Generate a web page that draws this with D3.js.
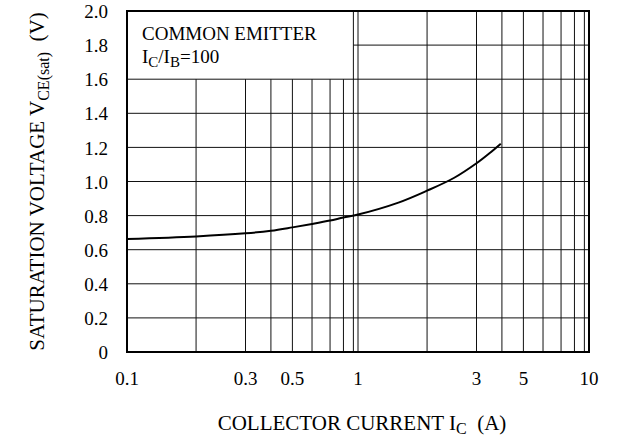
<!DOCTYPE html>
<html><head><meta charset="utf-8">
<script src="https://cdn.jsdelivr.net/npm/d3@7"></script>
<style>
body{margin:0;background:#fff;}
svg text{font-family:"Liberation Serif","Times New Roman",serif;fill:#000;}
</style></head>
<body><svg id="c" width="618" height="442"></svg>
<script>
const currentA = [0.1, 0.2, 0.3, 0.4, 0.5, 0.6, 0.7, 0.8, 1, 1.5, 2, 2.5, 3, 3.5, 3.95];
const vceSat   = [0.663, 0.678, 0.696, 0.711, 0.731, 0.751, 0.771, 0.789, 0.806, 0.876, 0.946, 1.022, 1.107, 1.169, 1.222];
const xTickValues = [0.1, 0.3, 0.5, 1, 3, 5, 10];
const xTickLabels = ["0.1", "0.3", "0.5", "1", "3", "5", "10"];
const xGridValues = [0.2,0.3,0.4,0.5,0.6,0.7,0.8,0.9,1,2,3,4,5,6,7,8,9];
const yTickValues = [0,0.2,0.4,0.6,0.8,1.0,1.2,1.4,1.6,1.8,2.0];
const yTickLabels = ["0","0.2","0.4","0.6","0.8","1.0","1.2","1.4","1.6","1.8","2.0"];

const svg = d3.select("#c");
const L=127, R=589, T=11, B=352;
const fs = 19, ft = 21;

// The printed chart's log paper is not a pure log grid: per-decade position of
// mantissas 1..10 (fraction of a decade) as drawn on the original sheet.
const mantissas = [1,2,3,4,5,6,7,8,9,10];
const paperFrac = [0,0.299,0.513,0.623,0.716,0.801,0.879,0.937,0.98,1];
const warpDom = [], warpRng = [];
[-1,0].forEach(d=>mantissas.forEach((m,i)=>{
  warpDom.push(d+Math.log10(m)); warpRng.push(d+paperFrac[i]);
}));
const warp = d3.scaleLinear().domain(warpDom).range(warpRng);
const xr = d3.scaleLinear().domain([-1,1]).range([L,R]);
const x = v => xr(warp(Math.log10(v)));
const y = d3.scaleLinear().domain([0,2]).range([B,T]);

const g = svg.append("g");
xGridValues.forEach(v=>{
  const top = (v < 0.9) ? y(1.6) : T;
  g.append("line").attr("x1",x(v)).attr("x2",x(v)).attr("y1",top).attr("y2",B)
    .attr("stroke","#111").attr("stroke-width",1);
});
yTickValues.slice(1,-1).forEach(v=>{
  const left = (v > 1.6) ? x(0.9) : L;
  g.append("line").attr("x1",left).attr("x2",R).attr("y1",y(v)).attr("y2",y(v))
    .attr("stroke","#111").attr("stroke-width",1);
});

const line = d3.line().x((d,i)=>x(currentA[i])).y(d=>y(d)).curve(d3.curveCatmullRom.alpha(0.5));
svg.append("path").datum(vceSat).attr("d",line).attr("fill","none")
  .attr("stroke","#000").attr("stroke-width",2);

svg.append("rect").attr("x",L).attr("y",T).attr("width",R-L).attr("height",B-T)
  .attr("fill","none").attr("stroke","#000").attr("stroke-width",2);

svg.append("g").selectAll("text").data(xTickValues).join("text")
  .attr("x",d=>x(d)).attr("y",B+33).attr("text-anchor","middle")
  .style("font-size",fs+"px").text((d,i)=>xTickLabels[i]);

const yAxis = d3.axisLeft(y).tickValues(yTickValues).tickSize(0).tickPadding(0)
  .tickFormat((d,i)=> yTickLabels[i]);
const ya = svg.append("g").attr("transform",`translate(${L},0)`).call(yAxis);
ya.select(".domain").remove();
ya.selectAll("text").attr("x",-19).attr("dy","0.35em").style("font-size",fs+"px")
  .style("font-family",null);

svg.append("text").attr("x",142).attr("y",40).style("font-size",fs+"px").text("COMMON EMITTER");
const lt = svg.append("text").attr("x",142).attr("y",63).style("font-size",fs+"px");
lt.append("tspan").text("I");
lt.append("tspan").attr("dy",4).style("font-size","15px").text("C");
lt.append("tspan").attr("dy",-4).text("/I");
lt.append("tspan").attr("dy",4).style("font-size","15px").text("B");
lt.append("tspan").attr("dy",-4).text("=100");

const xt = svg.append("text").attr("x",362).attr("y",430).attr("text-anchor","middle").style("font-size",ft+"px");
xt.append("tspan").text("COLLECTOR CURRENT I");
xt.append("tspan").attr("dy",4).style("font-size","16px").text("C");
xt.append("tspan").attr("dy",-4).text("\u00a0\u00a0(A)");

const yt = svg.append("text").attr("transform",`translate(44,${(T+B)/2}) rotate(-90)`)
  .attr("text-anchor","middle").style("font-size",ft+"px");
yt.append("tspan").text("SATURATION VOLTAGE V");
yt.append("tspan").attr("dy",5).style("font-size","16px").text("CE(sat)");
yt.append("tspan").attr("dy",-5).text("\u00a0\u00a0(V)");
</script></body></html>
